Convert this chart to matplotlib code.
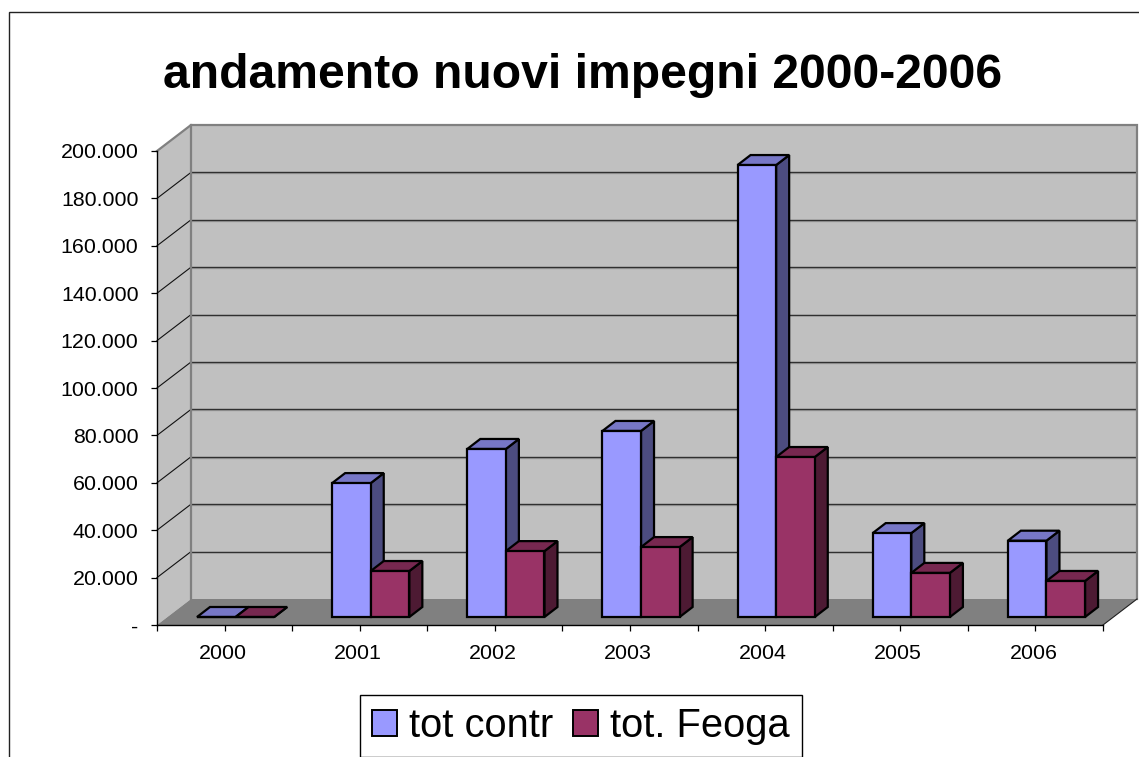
import matplotlib
matplotlib.use("Agg")
import matplotlib.pyplot as plt
from matplotlib.lines import Line2D
from matplotlib.patches import Patch
from matplotlib.transforms import Affine2D

plt.rcParams['font.family'] = ['Liberation Sans', 'DejaVu Sans']

years = ['2000', '2001', '2002', '2003', '2004', '2005', '2006']
tot_contr = [0, 56500, 70900, 78500, 190700, 35400, 32200]
tot_feoga = [0, 19400, 27800, 29500, 67500, 18600, 15200]
y_ticks = [0, 20000, 40000, 60000, 80000, 100000, 120000, 140000, 160000, 180000, 200000]
y_labels = ['-', '20.000', '40.000', '60.000', '80.000', '100.000', '120.000',
            '140.000', '160.000', '180.000', '200.000']
title = 'andamento nuovi impegni 2000-2006'
series_names = ['tot contr', 'tot. Feoga']

W, H = 1139, 757
fig = plt.figure(figsize=(W / 100, H / 100), dpi=100, facecolor='white')
L, R, T, B = 157, 1103, 151, 625
ax = fig.add_axes([L / W, 1 - B / H, (R - L) / W, (B - T) / H])
ax.patch.set_visible(False)
ax.set_xlim(-0.5, 6.5)
ax.set_ylim(0, 200000)

px_x = 7 / (R - L)
px_y = 200000 / (B - T)
wall_dx, wall_dy = 34 * px_x, 26 * px_y
base_dx, base_dy = 10.5 * px_x, 8 * px_y
bar_dx, bar_dy = 13 * px_x, 10 * px_y
bar_w = 38.6 * px_x

x0, x1 = -0.5, 6.5
top = 200000
GRAY = '#808080'
WALL = '#C0C0C0'

# walls and floor
ax.fill([x0, x0, x0 + wall_dx, x0 + wall_dx], [0, top, top + wall_dy, wall_dy],
        fc=WALL, ec='none', clip_on=False, zorder=1)
ax.fill([x0 + wall_dx, x0 + wall_dx, x1 + wall_dx, x1 + wall_dx],
        [wall_dy, top + wall_dy, top + wall_dy, wall_dy],
        fc=WALL, ec='none', clip_on=False, zorder=1)
ax.fill([x0, x0 + wall_dx, x1 + wall_dx, x1], [0, wall_dy, wall_dy, 0],
        fc=GRAY, ec='none', clip_on=False, zorder=1.1)

# gridlines
for v in y_ticks[1:-1]:
    ax.plot([x0 + wall_dx, x1 + wall_dx], [v + wall_dy - 0.8 * px_y] * 2, color='#A0A0A0', lw=1.0,
            clip_on=False, zorder=1.2, solid_capstyle='butt')
    ax.plot([x0 + wall_dx, x1 + wall_dx], [v + wall_dy] * 2, color='#303030', lw=1.0,
            clip_on=False, zorder=1.3, solid_capstyle='butt')
    ax.plot([x0, x0 + wall_dx], [v, v + wall_dy], color='#111111', lw=0.8,
            clip_on=False, zorder=1.3)

# wall borders
ax.plot([x0, x0 + wall_dx, x1 + wall_dx, x1 + wall_dx], [top, top + wall_dy, top + wall_dy, wall_dy],
        color=GRAY, lw=1.6, clip_on=False, zorder=1.4, solid_joinstyle='miter')
ax.plot([x0 + wall_dx, x0 + wall_dx], [top + wall_dy, wall_dy], color=GRAY, lw=1.6,
        clip_on=False, zorder=1.4)
ax.plot([x1, x1 + wall_dx], [0, wall_dy], color='#202020', lw=0.8, clip_on=False, zorder=1.4)

# bars
styles = [('#9999FF', '#7777C6', '#4C4C80'), ('#993366', '#772850', '#4D1A33')]
EDGE = dict(ec='black', lw=1.6, clip_on=False, joinstyle='miter')
z = 2.0
for i in range(len(years)):
    for s, vals in enumerate((tot_contr, tot_feoga)):
        v = vals[i]
        front, tface, sface = styles[s]
        xl = i - 0.5 + (58 / 2 + 0.5) * px_x + s * bar_w + base_dx
        xr = xl + bar_w
        yb = base_dy
        yt = v + base_dy
        ax.fill([xr, xr + bar_dx, xr + bar_dx, xr], [yb, yb + bar_dy, yt + bar_dy, yt],
                fc=sface, zorder=z, **EDGE)
        ax.fill([xl, xl + bar_dx, xr + bar_dx, xr], [yt, yt + bar_dy, yt + bar_dy, yt],
                fc=tface, zorder=z + 0.01, **EDGE)
        ax.fill([xl, xl, xr, xr], [yb, yt, yt, yb], fc=front, zorder=z + 0.02, **EDGE)
        z += 0.1

# axes
for side in ('top', 'right'):
    ax.spines[side].set_visible(False)
for side in ('left', 'bottom'):
    ax.spines[side].set_color('black')
    ax.spines[side].set_linewidth(1.0)
    ax.spines[side].set_zorder(1.5)
ax.set_yticks(y_ticks)
ax.set_yticklabels(y_labels)
ax.set_xticks(range(len(years)))
ax.set_xticklabels(years)
ax.set_xticks([k - 0.5 for k in range(len(years) + 1)], minor=True)
ax.tick_params(axis='both', which='major', labelsize=15.4, length=4.5, width=0.9, color='black')
ax.tick_params(axis='y', pad=8.8)
ax.tick_params(axis='x', which='minor', length=4.5, width=0.9, color='black')
ax.tick_params(axis='x', which='major', pad=9)
for lab in ax.get_xticklabels():
    lab.set_transform(lab.get_transform() + Affine2D().translate(-2, 0))

# title
fig.text(583 / W, 1 - 88 / H, title, ha='center', va='baseline', fontsize=34.7, fontweight='bold')

# legend
handles = [Patch(fc=styles[0][0], ec='black', lw=1.4), Patch(fc=styles[1][0], ec='black', lw=1.4)]
leg = fig.legend(handles, series_names, ncol=2, loc='center', bbox_to_anchor=(581 / W, 1 - 726 / H),
                 fontsize=28.7, frameon=True, fancybox=False, edgecolor='black', framealpha=1,
                 handlelength=0.62, handleheight=0.62, handletextpad=0.3, columnspacing=0.5,
                 borderpad=0.3, borderaxespad=0)
leg.get_frame().set_linewidth(1.0)

# outer chart frame: left and top edges only, the rest is cut off by the picture
fig.add_artist(Line2D([9 / W, 9 / W, 1], [0, 1 - 12 / H, 1 - 12 / H],
                      color='#222222', lw=1.0, solid_joinstyle='miter'))

fig.savefig('out.png', dpi=100)
